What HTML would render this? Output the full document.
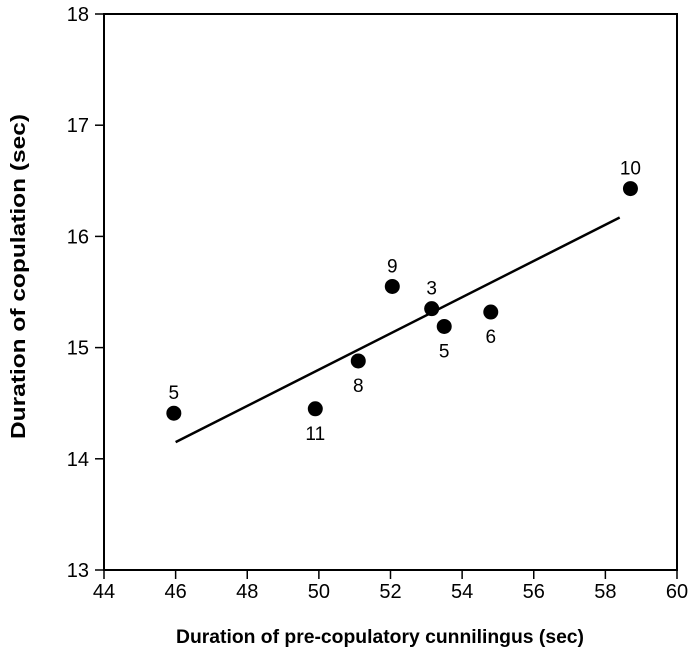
<!DOCTYPE html>
<html><head><meta charset="utf-8"><style>
body{margin:0;background:#fff;}
svg text{font-family:"Liberation Sans",Arial,sans-serif;fill:#000;}
</style></head><body>
<svg id="chart" width="689" height="654" viewBox="0 0 689 654" xmlns="http://www.w3.org/2000/svg"></svg>
<script>
const xTicks=[44,46,48,50,52,54,56,58,60];
const yTicks=[13,14,15,16,17,18];
const xVals=[45.95,49.9,51.1,52.05,53.15,53.5,54.8,58.7];
const yVals=[14.41,14.45,14.88,15.55,15.35,15.19,15.32,16.43];
const ptLabels=["5","11","8","9","3","5","6","10"];
const labelAbove=[true,false,false,true,true,false,false,true];
const fitX=[46,58.4];
const fitY=[14.15,16.17];
const L=104,R=677,T=14,B=570;
const sx=v=>L+(v-44)/(60-44)*(R-L);
const sy=v=>B-(v-13)/(18-13)*(B-T);
const svg=document.getElementById('chart');
const NS='http://www.w3.org/2000/svg';
function mk(tag,attrs,parent){const e=document.createElementNS(NS,tag);for(const k in attrs)e.setAttribute(k,attrs[k]);(parent||svg).appendChild(e);return e;}
let f=mk('rect',{x:L,y:T,width:R-L,height:B-T,fill:'none',stroke:'#000','stroke-width':2});


xTicks.forEach(v=>{
 const t=mk('line',{x1:sx(v),x2:sx(v),y1:B,y2:B+9,stroke:'#000','stroke-width':1.5});
 
 
 const l=mk('text',{x:sx(v),y:B+28,'text-anchor':'middle','font-size':20});
 l.textContent=v;
 
 
});
yTicks.forEach(v=>{
 const t=mk('line',{x1:L-9,x2:L,y1:sy(v),y2:sy(v),stroke:'#000','stroke-width':1.5});
 
 
 const l=mk('text',{x:L-15,y:sy(v)+7,'text-anchor':'end','font-size':20});
 l.textContent=v;
 
 
});
const fl=mk('line',{x1:sx(fitX[0]),y1:sy(fitY[0]),x2:sx(fitX[1]),y2:sy(fitY[1]),stroke:'#000','stroke-width':2.5});


xVals.forEach((v,i)=>{
 const c=mk('circle',{cx:sx(v),cy:sy(yVals[i]),r:7.5,fill:'#000'});
 
 
 const t=mk('text',{x:sx(v),y:sy(yVals[i])+(labelAbove[i]?-14:31),'text-anchor':'middle','font-size':19});
 t.textContent=ptLabels[i];
 
 
});
const xt=mk('text',{x:176,y:643,'font-size':19,'font-weight':'bold',textLength:408,lengthAdjust:'spacingAndGlyphs'});
xt.textContent='Duration of pre-copulatory cunnilingus (sec)';


const yt=mk('text',{x:0,y:0,'font-size':20,'font-weight':'bold',textLength:325,lengthAdjust:'spacingAndGlyphs',transform:`translate(25,439) rotate(-90)`});
yt.textContent='Duration of copulation (sec)';


</script>
</body></html>
